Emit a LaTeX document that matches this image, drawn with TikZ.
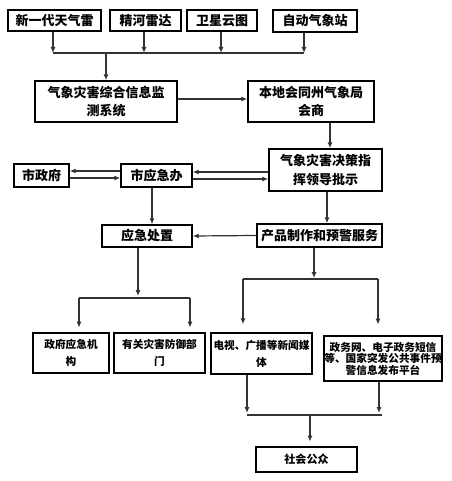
\documentclass[tikz,border=0pt]{standalone}
\usepackage{fontspec}
\setmainfont{Noto Sans CJK SC}
\usetikzlibrary{arrows.meta}
\tikzset{
  box/.style={draw=black, line width=1.1pt, inner sep=0pt, align=center,
    font=\fontsize{9.75}{14}\selectfont\bfseries},
  sbox/.style={box, font=\fontsize{8}{12.75}\selectfont\bfseries},
  tbox/.style={box, font=\fontsize{8}{8.6}\selectfont\bfseries},
  arr/.style={draw=black!80, line width=0.9pt, -{Latex[length=4.5pt,width=3.8pt]}},
  ln/.style={draw=black!80, line width=0.9pt},
}
\begin{document}
\begin{tikzpicture}[x=0.75pt,y=-0.75pt]
\useasboundingbox (0,0) rectangle (451,481);
% top sources
\node[box, minimum width=93*0.75pt, minimum height=21*0.75pt] (n1) at (54.5,20.5) {新一代天气雷};
\node[box, minimum width=71*0.75pt, minimum height=21*0.75pt] (n2) at (145.5,20.5) {精河雷达};
\node[box, minimum width=70*0.75pt, minimum height=21*0.75pt] (n3) at (222,20.5) {卫星云图};
\node[box, minimum width=84*0.75pt, minimum height=22*0.75pt] (n4) at (315,21) {自动气象站};
% main
\node[box, minimum width=142*0.75pt, minimum height=41*0.75pt] (jc) at (106,101.5) {气象灾害综合信息监\\测系统};
\node[box, minimum width=126*0.75pt, minimum height=41*0.75pt] (hs) at (311,101.5) {本地会同州气象局\\会商};
\node[box, minimum width=113*0.75pt, minimum height=42*0.75pt] (jc2) at (325.5,170) {气象灾害决策指\\挥领导批示};
\node[box, minimum width=71*0.75pt, minimum height=23*0.75pt] (yjb) at (156.5,175.5) {市应急办};
\node[box, minimum width=55*0.75pt, minimum height=23*0.75pt] (szf) at (41.5,175.5) {市政府};
\node[box, minimum width=90*0.75pt, minimum height=22*0.75pt] (yjcz) at (147,236) {应急处置};
\node[box, minimum width=125*0.75pt, minimum height=23*0.75pt] (cp) at (319.5,235.5) {产品制作和预警服务};
% bottom
\node[sbox, minimum width=76*0.75pt, minimum height=40*0.75pt] (zf) at (71,353) {政府应急机\\构};
\node[sbox, minimum width=91*0.75pt, minimum height=40*0.75pt] (yg) at (159.5,353) {有关灾害防御部\\门};
\node[sbox, minimum width=101*0.75pt, minimum height=41*0.75pt] (ds) at (261.5,353.5) {电视、广播等新闻媒\\体};
\node[tbox, minimum width=118*0.75pt, minimum height=45*0.75pt] (zw) at (383,358.5) {政务网、电子政务短信\\等、国家突发公共事件预\\警信息发布平台};
\node[box, font=\fontsize{8.3}{10}\selectfont\bfseries, minimum width=101*0.75pt, minimum height=25*0.75pt] (sh) at (306.5,459.5) {社会公众};
% bus coordinates
\coordinate (b1L) at (53,53);
\coordinate (b1R) at (304,53);
\coordinate (b2L) at (79,298);
\coordinate (b2R) at (190,298);
\coordinate (b3L) at (243,279);
\coordinate (b3R) at (378,279);
\coordinate (b4L) at (247,415);
\coordinate (b4R) at (382,415);
% top bus
\draw[arr] (n1.south -| 53,0) -- (53,53);
\draw[arr] (n2.south -| 144,0) -- (144,53);
\draw[arr] (n3.south -| 221,0) -- (221,53);
\draw[arr] (n4.south -| 304,0) -- (304,53);
\draw[ln] (b1L) -- (b1R);
\draw[arr] (106,53) -- (jc.north -| 106,0);
\draw[arr] (jc.east |- 0,99) -- (hs.west |- 0,99);
\draw[arr] (hs.south -| 330,0) -- (jc2.north -| 330,0);
% city government exchanges
\draw[arr] (yjb.west |- 0,171) -- (szf.east |- 0,171);
\draw[arr] (szf.east |- 0,178) -- (yjb.west |- 0,178);
\draw[arr] (jc2.west |- 0,172) -- (yjb.east |- 0,172);
\draw[arr] (yjb.east |- 0,179) -- (jc2.west |- 0,179);
\draw[arr] (yjb.south -| 152,0) -- (yjcz.north -| 152,0);
\draw[arr] (jc2.south -| 327,0) -- (cp.north -| 327,0);
\draw[arr] (cp.west) -- (yjcz.east);
% emergency handling branch
\draw[arr] (yjcz.south -| 138,0) -- (138,296);
\draw[ln] (b2L) -- (b2R);
\draw[arr] (b2L) -- ([yshift=3.5pt]zf.north -| b2L);
\draw[arr] (b2R) -- ([yshift=3.5pt]yg.north -| b2R);
% product branch
\draw[arr] (cp.south -| 314,0) -- (314,278);
\draw[ln] (b3L) -- (b3R);
\draw[arr] (b3L) -- ([yshift=6pt]ds.north -| b3L);
\draw[arr] (b3R) -- ([yshift=8pt]zw.north -| b3R);
% to public
\draw[arr] (ds.south -| 247,0) -- (247,413);
\draw[arr] (zw.south -| 379,0) -- (379,413);
\draw[ln] (b4L) -- (b4R);
\draw[arr] (310,415) -- ([yshift=3.5pt]sh.north -| 310,0);
\end{tikzpicture}
\end{document}
